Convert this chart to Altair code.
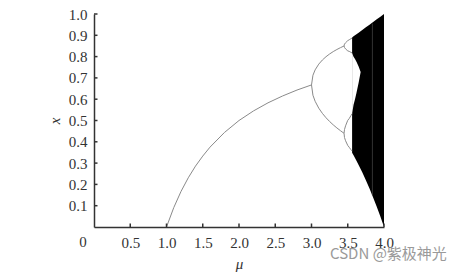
import altair as alt
import pandas as pd

# ---- data ----
mu_fixed = [1.0, 1.1, 1.2, 1.3, 1.4, 1.5, 1.6, 1.8, 2.0, 2.2, 2.4, 2.6, 2.8, 3.0]
x_fixed = [0.0, 0.091, 0.167, 0.231, 0.286, 0.333, 0.375, 0.444, 0.5, 0.545, 0.583, 0.615, 0.643, 0.667]

mu_p2 = [3.0, 3.02, 3.05, 3.1, 3.15, 3.2, 3.25, 3.3, 3.35, 3.4, 3.449]
x_p2_upper = [0.667, 0.7125, 0.7377, 0.7646, 0.7840, 0.7995, 0.8124, 0.8236, 0.8334, 0.8421, 0.8499]
x_p2_lower = [0.667, 0.6186, 0.5902, 0.5580, 0.5335, 0.5130, 0.4953, 0.4794, 0.4651, 0.4520, 0.4399]

mu_p4 = [3.449, 3.455, 3.47, 3.5, 3.52, 3.544, 3.56]
x_p4_a = [0.8499, 0.8585, 0.865, 0.875, 0.879, 0.884, 0.887]
x_p4_b = [0.8499, 0.8429, 0.836, 0.8269, 0.8245, 0.820, 0.817]
x_p4_c = [0.4399, 0.4574, 0.475, 0.5009, 0.509, 0.523, 0.532]
x_p4_d = [0.4399, 0.4200, 0.405, 0.3828, 0.3744, 0.363, 0.357]

mu_chaos = [3.56, 3.58, 3.6, 3.62, 3.65, 3.7, 3.75, 3.8, 3.85, 3.9, 3.95, 4.0]
x_chaos_top = [0.89, 0.895, 0.9, 0.905, 0.9125, 0.925, 0.9375, 0.95, 0.9625, 0.975, 0.9875, 1.0]
x_chaos_bottom = [0.3485, 0.3364, 0.324, 0.3112, 0.2914, 0.2567, 0.2197, 0.1805, 0.139, 0.0951, 0.0488, 0.0]

mu_gap = [3.56, 3.58, 3.6, 3.62, 3.65, 3.678]
x_gap_top = [0.817, 0.7992, 0.7885, 0.776, 0.7537, 0.728]
x_gap_bottom = [0.532, 0.5745, 0.6003, 0.6292, 0.6776, 0.728]

mu_window = [3.84]
x_window_top = [0.955]
x_window_bottom = [0.15]

x_ticks = [0.5, 1.0, 1.5, 2.0, 2.5, 3.0, 3.5, 4.0]
y_ticks = [0.1, 0.2, 0.3, 0.4, 0.5, 0.6, 0.7, 0.8, 0.9, 1.0]
origin_label = ["0"]
watermark = ["CSDN @紫极神光"]

# ---- tables ----
rows = []
for m, v in zip(mu_fixed, x_fixed):
    rows.append({"mu": m, "x": v, "branch": "f"})
for name, ys in [("p2u", x_p2_upper), ("p2l", x_p2_lower)]:
    for m, v in zip(mu_p2, ys):
        rows.append({"mu": m, "x": v, "branch": name})
for name, ys in [("a", x_p4_a), ("b", x_p4_b), ("c", x_p4_c), ("d", x_p4_d)]:
    for m, v in zip(mu_p4, ys):
        rows.append({"mu": m, "x": v, "branch": name})
lines_df = pd.DataFrame(rows)
chaos_df = pd.DataFrame({"mu": mu_chaos, "x": x_chaos_bottom, "x2": x_chaos_top})
gap_df = pd.DataFrame({"mu": mu_gap, "x": x_gap_bottom, "x2": x_gap_top})
win_df = pd.DataFrame({"mu": mu_window, "x": x_window_bottom, "x2": x_window_top})
xt_df = pd.DataFrame({"mu": x_ticks})
yt_df = pd.DataFrame({"x": y_ticks})
o_df = pd.DataFrame({"mu": [0.0], "label": origin_label})
wm_df = pd.DataFrame({"label": watermark})

SERIF = "Liberation Serif"
xscale = alt.Scale(domain=[0, 4], nice=False, zero=False)
yscale = alt.Scale(domain=[0, 1], nice=False, zero=False)
xaxis = alt.Axis(values=x_ticks, format=".1f", title="μ", ticks=False, grid=False,
                 labelPadding=8, titlePadding=6, titleFontStyle="italic",
                 labelFlush=False)
yaxis = alt.Axis(values=y_ticks, format=".1f", title="x", ticks=False, grid=False,
                 labelPadding=7, titlePadding=6, titleFontStyle="italic")


def X(field="mu"):
    return alt.X(f"{field}:Q", scale=xscale, axis=xaxis)


def Y(field="x"):
    return alt.Y(f"{field}:Q", scale=yscale, axis=yaxis)


chaos = alt.Chart(chaos_df).mark_area(color="black", opacity=1).encode(
    x=X(), y=Y(), y2="x2:Q")
gap = alt.Chart(gap_df).mark_area(color="white", opacity=1).encode(
    x=X(), y=Y(), y2="x2:Q")
window = alt.Chart(win_df).mark_rule(color="#333333", strokeWidth=1).encode(
    x=X(), y=Y(), y2="x2:Q")
lines = alt.Chart(lines_df).mark_line(color="#8a8a8a", strokeWidth=1).encode(
    x=X(), y=Y(), detail="branch:N", order="mu:Q")
xt = alt.Chart(xt_df).mark_rule(color="#333333", strokeWidth=1.5).encode(
    x=X(), y=alt.value(213), y2=alt.value(209.5))
yt = alt.Chart(yt_df).mark_rule(color="#333333", strokeWidth=1.5).encode(
    y=Y(), x=alt.value(0), x2=alt.value(3.5))
origin = alt.Chart(o_df).mark_text(font=SERIF, fontSize=15, color="#333333",
                                   baseline="top", dx=-11, dy=8).encode(
    x=X(), y=alt.value(213), text="label:N")
wm = alt.Chart(wm_df).mark_text(font="Noto Sans CJK SC", fontSize=15, color="#9a9a9a",
                                align="left", baseline="middle").encode(
    x=alt.value(236), y=alt.value(240), text="label:N")

chart = alt.layer(chaos, gap, window, lines, xt, yt, origin, wm).properties(
    width=290, height=213,
    background="white",
    autosize=alt.AutoSizeParams(type="none"),
    padding={"left": 94, "top": 14, "right": 84, "bottom": 45},
).configure_view(stroke=None).configure_axis(
    domainColor="#333333", domainWidth=1.5,
    labelFont=SERIF, labelFontSize=15, labelColor="#333333",
    titleFont=SERIF, titleFontSize=15, titleColor="#333333", titleFontWeight="normal",
)

chart.save("out.html", embed_options={"renderer": "svg", "actions": False})
